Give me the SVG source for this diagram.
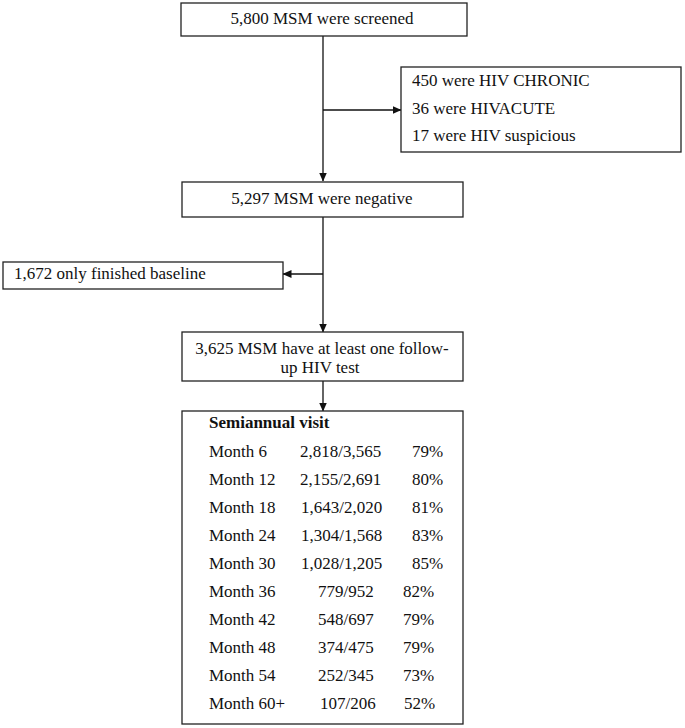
<svg xmlns="http://www.w3.org/2000/svg" width="685" height="728" viewBox="0 0 685 728">
<style>
.box{fill:#fff;stroke:#222;stroke-width:1.3}
.t{font-family:"Liberation Serif","Times New Roman",serif;font-size:17px;fill:#111}
.c{text-anchor:middle}
.b{font-weight:bold}
.e{text-anchor:end}
.ln{stroke:#111;stroke-width:1.3;fill:none}
</style>
<defs>
<marker id="ah" markerWidth="9" markerHeight="8" refX="8.5" refY="4" orient="auto" markerUnits="userSpaceOnUse">
<path d="M0,0 L9,4 L0,8 Z" fill="#111"/>
</marker>
</defs>
<rect width="685" height="728" fill="#fff"/>
<g id="connectors">
<line class="ln" x1="323" y1="36" x2="323" y2="181" marker-end="url(#ah)"/>
<line class="ln" x1="323" y1="110" x2="401" y2="110" marker-end="url(#ah)"/>
<line class="ln" x1="323" y1="217" x2="323" y2="332" marker-end="url(#ah)"/>
<line class="ln" x1="323" y1="274" x2="283" y2="274" marker-end="url(#ah)"/>
<line class="ln" x1="323" y1="381" x2="323" y2="411" marker-end="url(#ah)"/>
</g>
<g id="screened">
<rect class="box" x="181" y="3" width="286" height="33"/>
<text class="t c" x="322" y="24">5,800 MSM were screened</text>
</g>
<g id="excluded">
<rect class="box" x="401" y="67" width="280" height="85"/>
<text class="t" x="412" y="86">450 were HIV CHRONIC</text>
<text class="t" x="412" y="114">36 were HIVACUTE</text>
<text class="t" x="412" y="141">17 were HIV suspicious</text>
</g>
<g id="negative">
<rect class="box" x="182" y="182" width="281" height="35"/>
<text class="t c" x="322" y="204">5,297 MSM were negative</text>
</g>
<g id="baseline">
<rect class="box" x="3" y="262" width="280" height="27"/>
<text class="t" x="14" y="279">1,672 only finished baseline</text>
</g>
<g id="followup">
<rect class="box" x="182" y="332" width="281" height="49"/>
<text class="t c" x="322" y="354">3,625 MSM have at least one follow-</text>
<text class="t c" x="320" y="373">up HIV test</text>
</g>
<g id="visits">
<rect class="box" x="182" y="411" width="281" height="313"/>
<text class="t b" x="209" y="428">Semiannual visit</text>
<text class="t" x="209" y="457">Month 6</text><text class="t" x="300" y="457">2,818/3,565</text><text class="t" x="412" y="457">79%</text>
<text class="t" x="209" y="485">Month 12</text><text class="t" x="300" y="485">2,155/2,691</text><text class="t" x="412" y="485">80%</text>
<text class="t" x="209" y="513">Month 18</text><text class="t" x="301" y="513">1,643/2,020</text><text class="t" x="412" y="513">81%</text>
<text class="t" x="209" y="541">Month 24</text><text class="t" x="301" y="541">1,304/1,568</text><text class="t" x="412" y="541">83%</text>
<text class="t" x="209" y="569">Month 30</text><text class="t" x="301" y="569">1,028/1,205</text><text class="t" x="412" y="569">85%</text>
<text class="t" x="209" y="597">Month 36</text><text class="t" x="318" y="597">779/952</text><text class="t" x="403" y="597">82%</text>
<text class="t" x="209" y="625">Month 42</text><text class="t" x="318" y="625">548/697</text><text class="t" x="403" y="625">79%</text>
<text class="t" x="209" y="653">Month 48</text><text class="t" x="318" y="653">374/475</text><text class="t" x="403" y="653">79%</text>
<text class="t" x="209" y="681">Month 54</text><text class="t" x="318" y="681">252/345</text><text class="t" x="403" y="681">73%</text>
<text class="t" x="209" y="709">Month 60+</text><text class="t" x="320" y="709">107/206</text><text class="t" x="404" y="709">52%</text>
</g>
</svg>
